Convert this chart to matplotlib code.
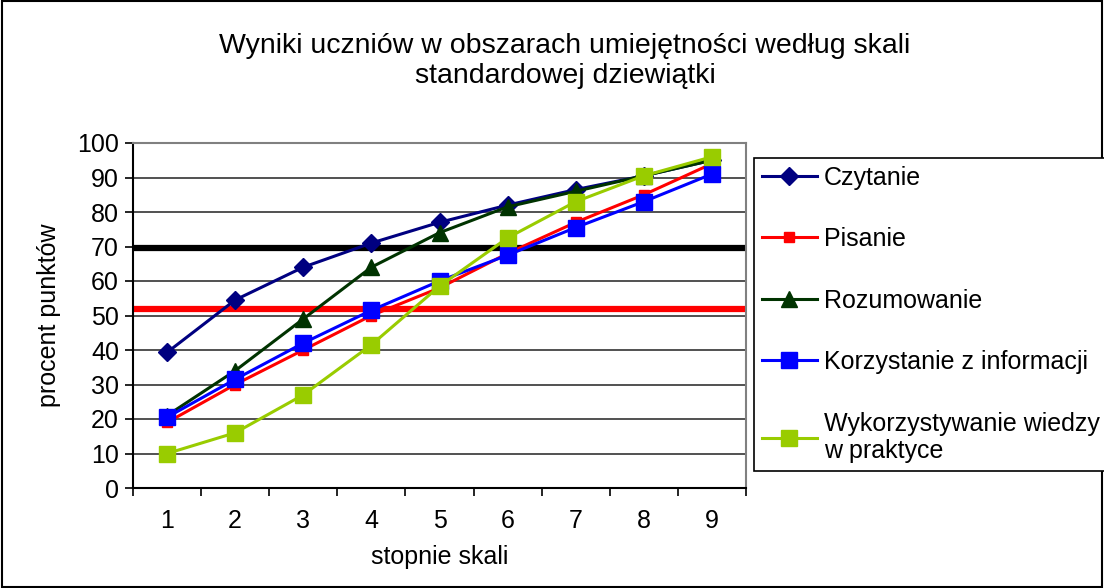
import matplotlib.pyplot as plt
import numpy as np
from matplotlib.patches import Rectangle

plt.rcParams['font.family'] = ['Liberation Sans', 'DejaVu Sans']

stopnie = [1, 2, 3, 4, 5, 6, 7, 8, 9]
czytanie = [39.3, 54.5, 64, 71, 77, 82, 86.5, 90.5, 95]
pisanie = [19, 30, 40, 50, 58, 68, 77, 85, 94]
rozumowanie = [21, 34, 49, 64, 74, 81.5, 86, 90.5, 95]
korzystanie = [20.5, 31.5, 42, 51.5, 60, 67.5, 75.5, 83, 91]
wykorzystywanie = [10, 16, 27, 41.5, 58.5, 72.5, 83, 90.5, 96]
linia_czarna = 69.6
linia_czerwona = 51.9

fig = plt.figure(figsize=(11.04, 5.88), dpi=100)
ax = fig.add_axes([133 / 1104, 1 - 488 / 588, 613 / 1104, 345 / 588])

x = np.array(stopnie)
ax.axhline(linia_czarna, color='black', lw=4.5, zorder=2)
ax.axhline(linia_czerwona, color='#ff0000', lw=4.5, zorder=2)

ax.plot(x, czytanie, color='#000080', lw=2.2, marker='D', ms=9, label='Czytanie', zorder=3)
ax.plot(x, pisanie, color='#ff0000', lw=2.2, marker='s', ms=7, label='Pisanie', zorder=3)
ax.plot(x, rozumowanie, color='#003300', lw=2.2, marker='^', ms=11, label='Rozumowanie', zorder=3)
ax.plot(x, korzystanie, color='#0000ff', lw=2.2, marker='s', ms=11, label='Korzystanie z informacji', zorder=4)
ax.plot(x, wykorzystywanie, color='#99cc00', lw=2.2, marker='s', ms=11,
        label='Wykorzystywanie wiedzy\nw praktyce', zorder=4)

ax.set_xlim(0.5, 9.5)
ax.set_ylim(0, 100)
ax.set_yticks(range(0, 101, 10))
ax.set_xticks(stopnie)
ax.set_xticks(np.arange(0.5, 9.6, 1), minor=True)
ax.tick_params(axis='x', which='major', length=0, labelsize=18, pad=15)
ax.tick_params(axis='x', which='minor', length=6, direction='out', width=1.2)
ax.tick_params(axis='y', length=6, direction='out', width=1.2, labelsize=18, pad=4)
ax.grid(axis='y', color='#333333', lw=1.2, zorder=1)
for s in ['left', 'bottom']:
    ax.spines[s].set_color('black')
    ax.spines[s].set_linewidth(1.5)
for s in ['top', 'right']:
    ax.spines[s].set_color('#808080')
    ax.spines[s].set_linewidth(1.5)

ax.set_xlabel('stopnie skali', fontsize=18, labelpad=9)
ax.set_ylabel('procent punktów', fontsize=18, labelpad=12)

fig.text(565 / 1104, 1 - 61 / 588, 'Wyniki uczniów w obszarach umiejętności według skali\nstandardowej dziewiątki',
         ha='center', va='center', fontsize=20.5, linespacing=1.2)

leg = fig.legend(loc='upper left', bbox_to_anchor=(754 / 1104, 1 - 158 / 588), fontsize=18,
                 frameon=True, fancybox=False, edgecolor='black', framealpha=1,
                 handlelength=2.2, handletextpad=0.3, labelspacing=1.5, borderpad=0.3,
                 borderaxespad=0)
leg.get_frame().set_linewidth(1.2)

fig.patches.append(Rectangle((0.002, 0.002), 0.996, 0.996, transform=fig.transFigure,
                             fill=False, edgecolor='black', lw=1.5))

fig.savefig('out.png', dpi=100)
